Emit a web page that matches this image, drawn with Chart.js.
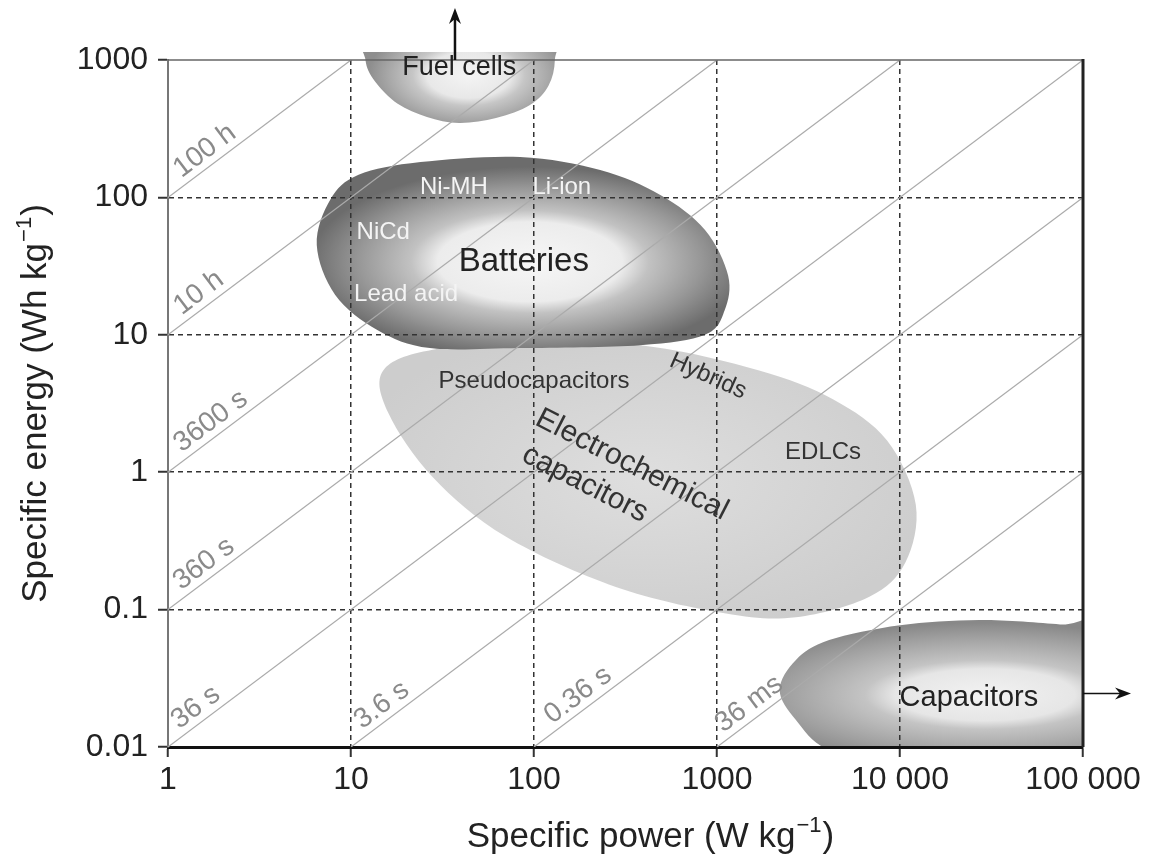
<!DOCTYPE html>
<html>
<head>
<meta charset="utf-8">
<title>Ragone plot</title>
<style>
  html, body { margin: 0; padding: 0; background: #fff; }
  #wrap { width: 1153px; height: 858px; }
</style>
<script src="https://cdn.jsdelivr.net/npm/chart.js@4/dist/chart.umd.min.js"></script>
</head>
<body>
<div id="wrap"><canvas id="ragone" width="1153" height="858"></canvas></div>
<script>
/**
 * Data
 */
const xTicks = [1, 10, 100, 1000, 10000, 100000];
const xTickLabels = ['1', '10', '100', '1000', '10 000', '100 000'];
const yTicks = [0.01, 0.1, 1, 10, 100, 1000];
const yTickLabels = ['0.01', '0.1', '1', '10', '100', '1000'];

// constant discharge-time lines, endpoints as [W/kg, Wh/kg]
const timeLineNames = ['100 h', '10 h', '3600 s', '360 s', '36 s', '3.6 s', '0.36 s', '36 ms'];
const timeLineStart = [[1, 100], [1, 10], [1, 1], [1, 0.1], [1, 0.01], [10, 0.01], [100, 0.01], [1000, 0.01]];
const timeLineEnd = [[10, 1000], [100, 1000], [1000, 1000], [10000, 1000], [100000, 1000], [100000, 100], [100000, 10], [100000, 1]];

// region outlines, [specific power, specific energy]
const electrochemicalCapacitors = [
  [15, 5.5], [28, 7.8], [110, 8.9], [440, 8.2], [1700, 5.5], [4300, 3.4], [8500, 1.7], [12200, 0.58],
  [10700, 0.22], [6800, 0.124], [2700, 0.088], [1100, 0.094], [280, 0.146], [70, 0.34], [28, 0.92], [16, 2.7],
];
const batteries = [
  [6.5, 45], [7.7, 96], [11, 146], [24, 181], [84, 197], [230, 158], [490, 104], [860, 58],
  [1150, 27], [1100, 15], [860, 10], [380, 8.4], [84, 8], [27, 8], [14, 10.8], [8.2, 19.5],
];
const fuelCells = [
  [12.5, 1650], [12, 1000], [13.5, 700], [18, 480], [26, 385], [39, 348], [62, 378], [95, 470],
  [120, 650], [130, 1000], [122, 1650], [40, 2600],
];
const capacitors = [
  [2200, 0.026], [2700, 0.043], [4100, 0.06], [10000, 0.077], [27000, 0.084], [75000, 0.078],
  [124000, 0.071], [124000, 0.008], [10000, 0.008], [4100, 0.0095], [2700, 0.0157],
];

/**
 * Look
 */
const fontFamily = "'Liberation Sans', Arial, Helvetica, sans-serif";

// light core of each region: centre in data units, spread in pixels
const regionLook = [
  { points: electrochemicalCapacitors, core: [409, 0.91], spread: [300, 160],
    stops: [[0, '#dedede'], [1, '#cdcdcd']] },
  { points: batteries, core: [95, 34], spread: [220, 95],
    stops: [[0, '#f6f6f6'], [0.42, '#ececec'], [0.54, '#c2c2c2'], [0.78, '#979797'], [1, '#6c6c6c']] },
  { points: fuelCells, core: [44, 778], spread: [100, 55],
    stops: [[0, '#f4f4f4'], [0.42, '#e8e8e8'], [0.56, '#c6c6c6'], [0.8, '#a8a8a8'], [1, '#8e8e8e']] },
  { points: capacitors, core: [29100, 0.024], spread: [250, 72],
    stops: [[0, '#f2f2f2'], [0.36, '#e6e6e6'], [0.48, '#c4c4c4'], [0.8, '#a0a0a0'], [1, '#888888']] },
];

// where each time label sits along its line (specific power)
const timeLabelAt = [1.78, 1.65, 1.92, 1.76, 1.59, 16.5, 195, 1680];

const regionLabels = [
  { text: 'Fuel cells', at: [39, 875], size: 27, color: '#222', angle: 0 },
  { text: 'Batteries', at: [88, 34], size: 33, color: '#222', angle: 0 },
  { text: 'Ni-MH', at: [36.5, 119], size: 24, color: '#f4f4f4', angle: 0 },
  { text: 'Li-ion', at: [142, 119], size: 24, color: '#f4f4f4', angle: 0 },
  { text: 'NiCd', at: [15, 56], size: 24, color: '#f4f4f4', angle: 0 },
  { text: 'Lead acid', at: [20, 19.8], size: 24, color: '#f4f4f4', angle: 0 },
  { text: 'Pseudocapacitors', at: [100, 4.6], size: 24, color: '#333', angle: 0 },
  { text: 'Hybrids', at: [893, 5.0], size: 24, color: '#333', angle: 24 },
  { text: 'Electrochemical', at: [343, 1.13], size: 30, color: '#333', angle: 27 },
  { text: 'capacitors', at: [190, 0.82], size: 30, color: '#333', angle: 27 },
  { text: 'EDLCs', at: [3800, 1.4], size: 24, color: '#333', angle: 0 },
  { text: 'Capacitors', at: [23800, 0.0227], size: 29, color: '#222', angle: 0 },
];

const xTitle = ['Specific power (W kg', '−1', ')'];
const yTitle = ['Specific energy (Wh kg', '−1', ')'];

/**
 * Helpers
 */
function traceClosedCurve(ctx, pts) {
  const n = pts.length;
  ctx.moveTo(pts[0].x, pts[0].y);
  for (let i = 0; i < n; i++) {
    const p0 = pts[(i - 1 + n) % n];
    const p1 = pts[i];
    const p2 = pts[(i + 1) % n];
    const p3 = pts[(i + 2) % n];
    ctx.bezierCurveTo(
      p1.x + (p2.x - p0.x) / 6, p1.y + (p2.y - p0.y) / 6,
      p2.x - (p3.x - p1.x) / 6, p2.y - (p3.y - p1.y) / 6,
      p2.x, p2.y
    );
  }
  ctx.closePath();
}

function arrow(ctx, x1, y1, x2, y2) {
  const a = Math.atan2(y2 - y1, x2 - x1);
  ctx.beginPath();
  ctx.moveTo(x1, y1);
  ctx.lineTo(x2 - 10 * Math.cos(a), y2 - 10 * Math.sin(a));
  ctx.stroke();
  ctx.beginPath();
  ctx.moveTo(x2, y2);
  ctx.lineTo(x2 - 16 * Math.cos(a) + 6 * Math.sin(a), y2 - 16 * Math.sin(a) - 6 * Math.cos(a));
  ctx.lineTo(x2 - 11 * Math.cos(a), y2 - 11 * Math.sin(a));
  ctx.lineTo(x2 - 16 * Math.cos(a) - 6 * Math.sin(a), y2 - 16 * Math.sin(a) + 6 * Math.cos(a));
  ctx.closePath();
  ctx.fill();
}

// axis title with a raised exponent, centred on (0, 0), baseline at 0
function unitTitle(ctx, [head, sup, tail], size) {
  const big = `${size}px ${fontFamily}`;
  const small = `${Math.round(size * 0.62)}px ${fontFamily}`;
  ctx.font = big;
  const wHead = ctx.measureText(head).width;
  const wTail = ctx.measureText(tail).width;
  ctx.font = small;
  const wSup = ctx.measureText(sup).width + 2;
  let cx = -(wHead + wSup + wTail) / 2;
  ctx.textAlign = 'left';
  ctx.textBaseline = 'alphabetic';
  ctx.font = big;
  ctx.fillText(head, cx, 0);
  cx += wHead;
  ctx.font = small;
  ctx.fillText(sup, cx + 1, -size * 0.42);
  cx += wSup;
  ctx.font = big;
  ctx.fillText(tail, cx, 0);
}

/**
 * Plugins
 */
const regionsPlugin = {
  id: 'regions',
  beforeDraw(chart) {
    const { ctx, chartArea, scales: { x, y } } = chart;
    ctx.save();
    ctx.beginPath();
    ctx.rect(chartArea.left, chartArea.top - 8, chartArea.right - chartArea.left, chartArea.bottom - chartArea.top + 10);
    ctx.clip();
    regionLook.forEach((region) => {
      const pts = region.points.map(([p, e]) => ({ x: x.getPixelForValue(p), y: y.getPixelForValue(e) }));
      ctx.save();
      ctx.beginPath();
      traceClosedCurve(ctx, pts);
      ctx.translate(x.getPixelForValue(region.core[0]), y.getPixelForValue(region.core[1]));
      ctx.scale(region.spread[0], region.spread[1]);
      const g = ctx.createRadialGradient(0, 0, 0, 0, 0, 1);
      region.stops.forEach(([o, c]) => g.addColorStop(o, c));
      ctx.fillStyle = g;
      ctx.fill();
      ctx.restore();
    });
    ctx.restore();
  },
};

const annotationsPlugin = {
  id: 'annotations',
  afterDraw(chart) {
    const { ctx, chartArea: { left, right, top, bottom }, scales: { x, y } } = chart;
    ctx.save();

    // frame: top and right
    ctx.strokeStyle = '#666';
    ctx.lineWidth = 1.5;
    ctx.beginPath();
    ctx.moveTo(left, top);
    ctx.lineTo(right, top);
    ctx.stroke();
    ctx.strokeStyle = '#222';
    ctx.lineWidth = 3;
    ctx.beginPath();
    ctx.moveTo(right, top - 1);
    ctx.lineTo(right, bottom);
    ctx.stroke();

    // arrows off the chart
    ctx.strokeStyle = '#111';
    ctx.fillStyle = '#111';
    ctx.lineWidth = 2.5;
    arrow(ctx, x.getPixelForValue(37), top, x.getPixelForValue(37), top - 52);
    ctx.lineWidth = 1.5;
    arrow(ctx, right, y.getPixelForValue(0.0245), right + 48, y.getPixelForValue(0.0245));

    // time labels along the diagonal lines
    ctx.fillStyle = '#8a8a8a';
    ctx.font = `28px ${fontFamily}`;
    ctx.textAlign = 'center';
    ctx.textBaseline = 'middle';
    timeLineNames.forEach((name, i) => {
      const [p0, e0] = timeLineStart[i];
      const [p1, e1] = timeLineEnd[i];
      const a = Math.atan2(y.getPixelForValue(e1) - y.getPixelForValue(e0), x.getPixelForValue(p1) - x.getPixelForValue(p0));
      const p = timeLabelAt[i];
      const px = x.getPixelForValue(p) + 15 * Math.sin(a);
      const py = y.getPixelForValue(p * e0 / p0) - 15 * Math.cos(a);
      ctx.save();
      ctx.translate(px, py);
      ctx.rotate(a);
      ctx.fillText(name, 0, 0);
      ctx.restore();
    });

    // region labels
    regionLabels.forEach((label) => {
      ctx.save();
      ctx.translate(x.getPixelForValue(label.at[0]), y.getPixelForValue(label.at[1]));
      ctx.rotate((label.angle * Math.PI) / 180);
      ctx.fillStyle = label.color;
      ctx.font = `${label.size}px ${fontFamily}`;
      ctx.fillText(label.text, 0, 0);
      ctx.restore();
    });

    // axis titles
    ctx.fillStyle = '#222';
    ctx.save();
    ctx.translate((left + right) / 2 + 25, 847);
    unitTitle(ctx, xTitle, 35);
    ctx.restore();
    ctx.save();
    ctx.translate(46, (top + bottom) / 2);
    ctx.rotate(-Math.PI / 2);
    unitTitle(ctx, yTitle, 35);
    ctx.restore();

    ctx.restore();
  },
};

/**
 * Chart
 */
const edgeTransparent = (edges) => (c) =>
  c.tick && edges.includes(c.tick.value) ? 'rgba(0,0,0,0)' : '#333';

const tickFont = { family: fontFamily, size: 32 };

new Chart(document.getElementById('ragone').getContext('2d'), {
  type: 'scatter',
  data: {
    datasets: timeLineNames.map((name, i) => ({
      label: name,
      data: [
        { x: timeLineStart[i][0], y: timeLineStart[i][1] },
        { x: timeLineEnd[i][0], y: timeLineEnd[i][1] },
      ],
      showLine: true,
      borderColor: '#aaaaaa',
      borderWidth: 1.2,
      pointRadius: 0,
      fill: false,
    })),
  },
  options: {
    responsive: false,
    animation: false,
    devicePixelRatio: 1,
    events: [],
    layout: { padding: { top: 60, right: 70, left: 0, bottom: 0 } },
    plugins: { legend: { display: false }, tooltip: { enabled: false } },
    scales: {
      x: {
        type: 'logarithmic',
        min: 1,
        max: 100000,
        afterFit: (scale) => { scale.height = 111; },
        afterBuildTicks: (scale) => { scale.ticks = xTicks.map((v) => ({ value: v })); },
        ticks: {
          callback: (value, index) => xTickLabels[index],
          autoSkip: false,
          maxRotation: 0,
          color: '#222',
          font: tickFont,
          padding: 4,
        },
        grid: {
          color: edgeTransparent([1, 100000]),
          lineWidth: 1.5,
          tickColor: '#333',
          tickWidth: 2,
          tickLength: 10,
          tickBorderDash: [],
        },
        border: { color: '#111', width: 3, dash: [5, 4] },
        title: { display: false },
      },
      y: {
        type: 'logarithmic',
        min: 0.01,
        max: 1000,
        afterFit: (scale) => { scale.width = 168; },
        afterBuildTicks: (scale) => { scale.ticks = yTicks.map((v) => ({ value: v })); },
        ticks: {
          callback: (value, index) => yTickLabels[index],
          autoSkip: false,
          color: '#222',
          font: tickFont,
          padding: 10,
        },
        grid: {
          color: edgeTransparent([0.01, 1000]),
          lineWidth: 1.5,
          tickColor: '#333',
          tickWidth: 2,
          tickLength: 10,
          tickBorderDash: [],
        },
        border: { color: '#777', width: 2, dash: [5, 4] },
        title: { display: false },
      },
    },
  },
  plugins: [regionsPlugin, annotationsPlugin],
});
</script>
</body>
</html>
